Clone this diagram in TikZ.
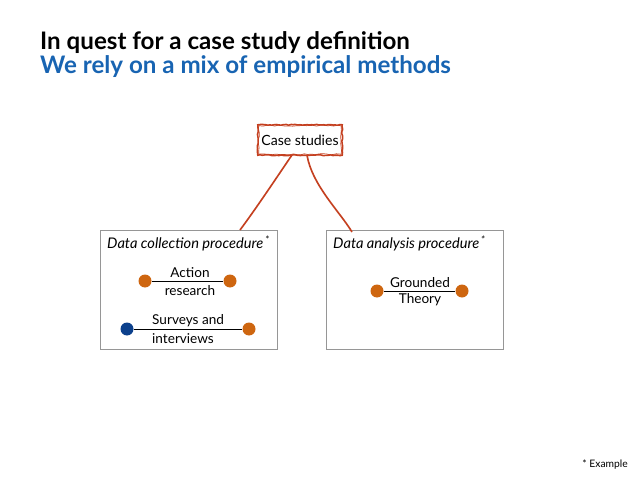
\documentclass[tikz,border=0pt]{standalone}
\usepackage{fontspec}
\setmainfont{Lato}
\usetikzlibrary{decorations.pathmorphing}
\definecolor{titleblue}{RGB}{24,100,178}
\definecolor{sketchred}{RGB}{196,64,32}
\definecolor{dotorange}{RGB}{206,102,16}
\definecolor{dotblue}{RGB}{12,64,140}
\definecolor{framegray}{RGB}{150,150,150}

\tikzset{
  procbox/.style={draw=framegray, line width=0.7pt, minimum width=177*0.03cm, minimum height=119*0.03cm, inner sep=0pt},
  proclabel/.style={anchor=west, font=\itshape\fontsize{12.5}{14}\selectfont, inner sep=0pt},
  dot/.style={circle, fill=#1, minimum size=13*0.03cm, inner sep=0pt},
  method/.style={font=\fontsize{11.6}{13}\selectfont, align=center, inner sep=0pt},
  branch/.style={draw=sketchred, line width=1.4pt}
}

\begin{document}
\begin{tikzpicture}[x=0.03cm,y=-0.03cm]
\useasboundingbox (0,0) rectangle (638,479);
% headings
\node[anchor=base west, inner sep=0pt, font=\bfseries\fontsize{20.6}{22}\selectfont] (title) at (40,50) {In quest for a case study definition};
\node[anchor=base west, inner sep=0pt, font=\bfseries\fontsize{20.6}{22}\selectfont, text=titleblue] (subtitle) at (40,74) {We rely on a mix of empirical methods};
% root
\node[font=\fontsize{12}{14}\selectfont, inner sep=0pt, minimum width=84*0.03cm, minimum height=30*0.03cm] (case) at (300,140) {Case studies};
\draw[sketchred, line width=1.3pt, decorate, decoration={random steps, segment length=2pt, amplitude=0.4pt}]
  (case.north west) rectangle (case.south east);
\draw[sketchred, line width=0.6pt, decorate, decoration={random steps, segment length=3pt, amplitude=0.5pt}]
  ([shift={(1,1)}]case.north west) rectangle ([shift={(-1,-1)}]case.south east);
% the two procedure boxes
\node[procbox, anchor=north west] (collect) at (100,230) {};
\node[procbox, anchor=north west] (analyse) at (326,230) {};
\node[proclabel] (collectlabel) at (107,243) {Data collection procedure\textsuperscript{\,*}};
\node[proclabel] (analyselabel) at (333,243) {Data analysis procedure\textsuperscript{\,*}};
\coordinate (leftfoot) at (240,230);
\coordinate (rightfoot) at (352,232);
\coordinate (leftroot) at ([xshift=-7]case.south);
\coordinate (rightroot) at ([xshift=6]case.south);
\draw[branch] (leftroot) .. controls (275,180) and (255,210) .. (leftfoot);
\draw[branch] (rightroot) .. controls (312,185) and (340,212) .. (rightfoot);
% methods
\node[dot=dotorange] (ar1) at (145,281) {};
\node[dot=dotorange] (ar2) at (230,281) {};
\node[dot=dotblue] (si1) at (127,329) {};
\node[dot=dotorange] (si2) at (249,329) {};
\node[dot=dotorange] (gt1) at (377,291) {};
\node[dot=dotorange] (gt2) at (462,291) {};
\path[draw, line width=0.7pt]
(ar1) -- (ar2)
(si1) -- (si2)
(gt1) -- (gt2);
\node[method] (artop) at (190,273) {Action};
\node[method] (arbot) at (190,291) {research};
\node[method, anchor=west] (sitop) at (152,321) {Surveys and};
\node[method, anchor=west] (sibot) at (152,339) {interviews};
\node[method] (gttop) at (420,283) {Grounded};
\node[method] (gtbot) at (420,300) {Theory};
% footnote
\node[anchor=east, inner sep=0pt, font=\fontsize{8.8}{10}\selectfont] (note) at (628,464) {* Example};
\end{tikzpicture}
\end{document}
